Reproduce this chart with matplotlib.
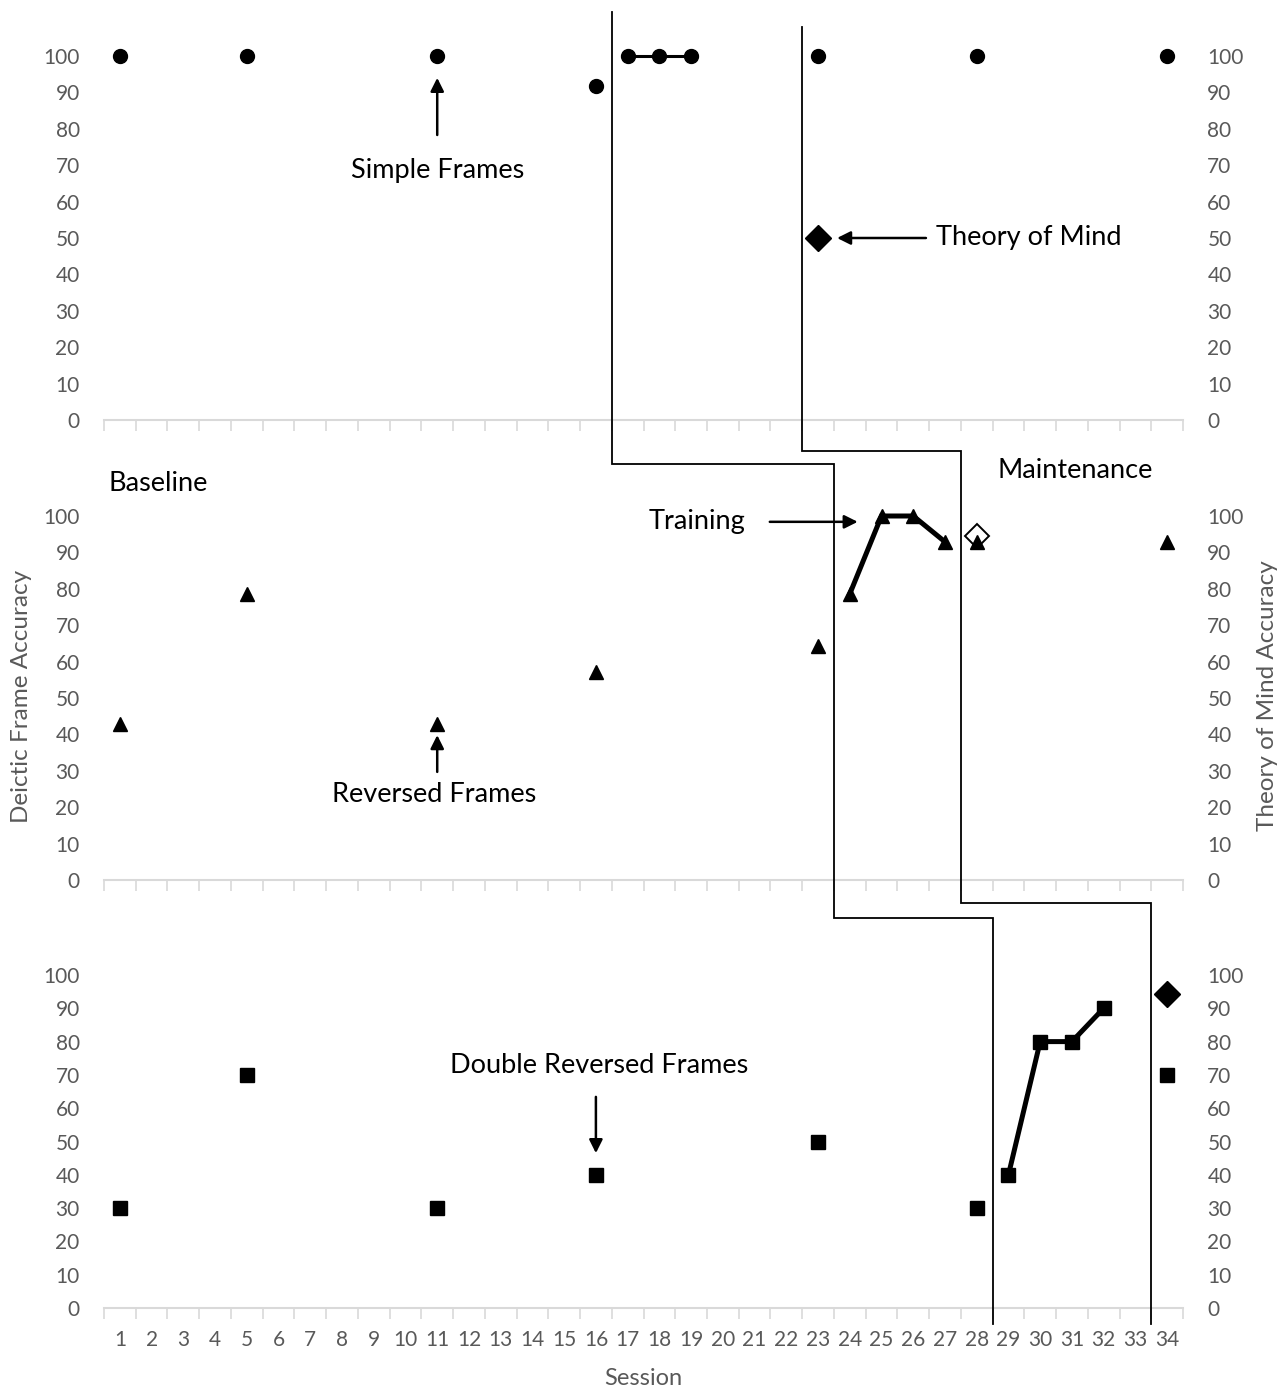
import numpy as np
import matplotlib
matplotlib.use("Agg")
import matplotlib.pyplot as plt
from matplotlib.lines import Line2D
from matplotlib.transforms import blended_transform_factory

plt.rcParams["font.family"] = ["Lato", "DejaVu Sans"]

# ── data ─────────────────────────────────────────────────────────────────────
sessions = list(range(1, 35))

simple_sess = [1, 5, 11, 16, 17, 18, 19, 23, 28, 34]
simple_acc = [100, 100, 100, 91.7, 100, 100, 100, 100, 100, 100]
simple_train = [17, 18, 19]

rev_sess = [1, 5, 11, 16, 23, 24, 25, 26, 27, 28, 34]
rev_acc = [42.9, 78.6, 42.9, 57.1, 64.3, 78.6, 100, 100, 92.9, 92.9, 92.9]
rev_train = [24, 25, 26, 27]

dbl_sess = [1, 5, 11, 16, 23, 28, 29, 30, 31, 32, 34]
dbl_acc = [30, 70, 30, 40, 50, 30, 40, 80, 80, 90, 70]
dbl_train = [29, 30, 31, 32]

# theory of mind probes (right axis, same 0-100 scale)
tom_top_sess, tom_top_acc = [23], [50]
tom_mid_sess, tom_mid_acc = [28], [94.4]
tom_bot_sess, tom_bot_acc = [34], [94.4]

# phase changes: baseline->training, training->maintenance
phase_train = [16.5, 23.5, 28.5]
phase_maint = [22.5, 27.5, 33.5]

GREY = "#595959"
W, H = 1284, 1391

fig = plt.figure(figsize=(W / 100, H / 100), dpi=100)
left, width = 104 / W, 1079 / W
ax_top = fig.add_axes([left, (H - 420) / H, width, 364 / H])
ax_mid = fig.add_axes([left, (H - 880) / H, width, 364 / H])
ax_bot = fig.add_axes([left, (H - 1308) / H, width, 333 / H])
axes = [ax_top, ax_mid, ax_bot]

for ax in axes:
    ax.set_xlim(0.5, 34.5)
    ax.set_ylim(0, 100)
    for s in ("top", "left", "right"):
        ax.spines[s].set_visible(False)
    ax.spines["bottom"].set_color("#d9d9d9")
    ax.spines["bottom"].set_linewidth(1.5)
    ax.set_yticks(np.arange(0, 101, 10))
    ax.tick_params(axis="y", left=False, right=False, labelleft=True,
                   labelright=True, labelsize=15, labelcolor=GREY, pad=14)
    ax.set_xticks(sessions)
    ax.set_xticks(np.arange(0.5, 35, 1), minor=True)
    ax.tick_params(axis="x", which="major", length=0, labelsize=15,
                   labelcolor=GREY, pad=16)
    ax.tick_params(axis="x", which="minor", length=8, width=1.2,
                   color="#d9d9d9", direction="out")
    ax.set_facecolor("none")

ax_top.set_xticklabels([])
ax_mid.set_xticklabels([])
ax_bot.set_xticklabels([str(s) for s in sessions])
ax_bot.set_xlabel("Session", fontsize=17, color=GREY, labelpad=13)


def plot_series(ax, sess, acc, train, marker, ms, lw):
    lookup = dict(zip(sess, acc))
    ax.plot(train, [lookup[s] for s in train], color="black", lw=lw,
            solid_joinstyle="miter", clip_on=False, zorder=3)
    ax.plot(sess, acc, ls="none", marker=marker, ms=ms, color="black",
            clip_on=False, zorder=4)


plot_series(ax_top, simple_sess, simple_acc, simple_train, "o", 10, 2.2)
plot_series(ax_mid, rev_sess, rev_acc, rev_train, "^", 10.5, 3.6)
plot_series(ax_bot, dbl_sess, dbl_acc, dbl_train, "s", 10, 3.6)

ax_top.plot(tom_top_sess, tom_top_acc, ls="none", marker="D", ms=13.5,
            color="black", clip_on=False, zorder=5)
ax_mid.plot(tom_mid_sess, tom_mid_acc, ls="none", marker="D", ms=12,
            mfc="white", mec="black", mew=1.4, clip_on=False, zorder=2)
ax_bot.plot(tom_bot_sess, tom_bot_acc, ls="none", marker="D", ms=13.5,
            color="black", clip_on=False, zorder=5)

# ── annotations ──────────────────────────────────────────────────────────────
arrow = dict(arrowstyle="-|>", color="black", lw=1.8, mutation_scale=20,
             shrinkA=0, shrinkB=0)
txt = dict(fontsize=19.5, color="black")

ax_top.text(11, 68.5, "Simple Frames", ha="center", va="center", **txt)
ax_top.annotate("", xy=(11, 94), xytext=(11, 78.3), arrowprops=arrow,
                annotation_clip=False)
ax_top.text(26.72, 50, "Theory of Mind", ha="left", va="center", **txt)
ax_top.annotate("", xy=(23.6, 50), xytext=(26.4, 50), arrowprops=arrow,
                annotation_clip=False)

ax_mid.text(0.63, 108.8, "Baseline", ha="left", va="center", **txt)
ax_mid.text(31.1, 112.4, "Maintenance", ha="center", va="center", **txt)
ax_mid.text(20.7, 98.4, "Training", ha="right", va="center", **txt)
ax_mid.annotate("", xy=(24.25, 98.4), xytext=(21.48, 98.4), arrowprops=arrow,
                annotation_clip=False)
ax_mid.text(10.9, 23.6, "Reversed Frames", ha="center", va="center", **txt)
ax_mid.annotate("", xy=(11, 39.8), xytext=(11, 29.7), arrowprops=arrow,
                annotation_clip=False)

ax_bot.text(16.1, 72.7, "Double Reversed Frames", ha="center", va="center",
            **txt)
ax_bot.annotate("", xy=(16, 46.5), xytext=(16, 63.4), arrowprops=arrow,
                annotation_clip=False)

# ── phase-change step lines across the three panels ─────────────────────────
trans = blended_transform_factory(ax_top.transData, fig.transFigure)


def step_line(xs, y_top, y_gaps, y_end):
    px, py = [xs[0]], [y_top]
    for i, yg in enumerate(y_gaps):
        px += [xs[i], xs[i + 1]]
        py += [yg, yg]
    px.append(xs[-1])
    py.append(y_end)
    fig.add_artist(Line2D(px, py, transform=trans, color="black", lw=1.3,
                          solid_joinstyle="miter"))


step_line(phase_train, (H - 12) / H, [(H - 464) / H, (H - 918) / H],
          (H - 1324) / H)
step_line(phase_maint, (H - 27) / H, [(H - 451) / H, (H - 903) / H],
          (H - 1324) / H)

fig.text(22 / W, (H - 696) / H, "Deictic Frame Accuracy", rotation=90,
         ha="center", va="center", fontsize=17.5, color=GREY)
fig.text(1268 / W, (H - 696) / H, "Theory of Mind Accuracy", rotation=90,
         ha="center", va="center", fontsize=17.5, color=GREY)

fig.savefig("out.png", dpi=100)
